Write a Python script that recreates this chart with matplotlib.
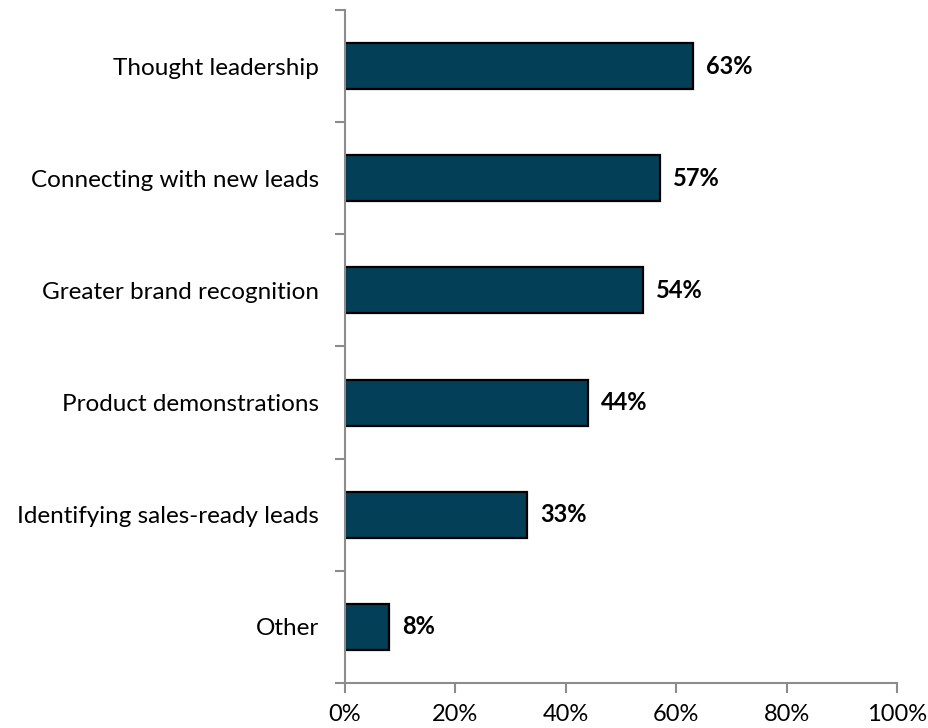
import matplotlib.pyplot as plt
import numpy as np

plt.rcParams['font.family'] = ['Lato', 'DejaVu Sans']

categories = ['Thought leadership', 'Connecting with new leads', 'Greater brand recognition',
              'Product demonstrations', 'Identifying sales-ready leads', 'Other']
values = [63, 57, 54, 44, 33, 8]
x_ticks = [0, 20, 40, 60, 80, 100]

fig = plt.figure(figsize=(9.29, 7.28), dpi=100)
ax = fig.add_axes([0.3714, 0.0618, 0.5942, 0.9245])

pos = np.arange(len(categories))
ax.barh(pos, values, height=0.41, color='#033f57', edgecolor='black', linewidth=1.6)

for p, v in zip(pos, values):
    ax.text(v + 2.4, p, f'{v}%', va='center', ha='left', fontsize=17, fontweight='bold')

ax.set_xlim(0, 100)
ax.set_ylim(len(categories) - 0.5, -0.5)
ax.set_xticks(x_ticks)
ax.set_xticklabels([f'{t}%' for t in x_ticks], fontsize=17)
ax.set_yticks(pos)
ax.set_yticklabels(categories, fontsize=17.5)
ax.set_yticks(np.arange(len(categories) + 1) - 0.5, minor=True)

ax.tick_params(axis='y', which='major', length=0, pad=19)
ax.tick_params(axis='y', which='minor', length=7, color='#8c8c8c', width=1.5)
ax.tick_params(axis='x', length=7, color='#8c8c8c', width=1.5, pad=8)

for side in ['top', 'right']:
    ax.spines[side].set_visible(False)
for side in ['left', 'bottom']:
    ax.spines[side].set_color('#8c8c8c')
    ax.spines[side].set_linewidth(1.5)

fig.savefig('out.png', dpi=100)
